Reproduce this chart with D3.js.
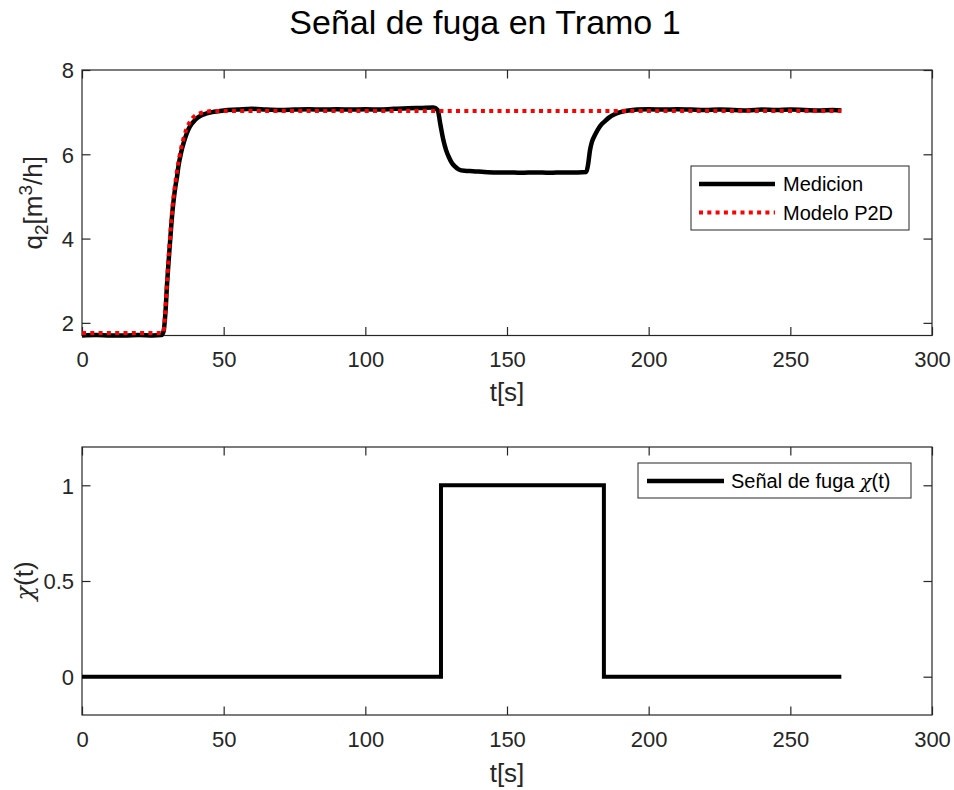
<!DOCTYPE html>
<html>
<head>
<meta charset="utf-8">
<script src="https://cdn.jsdelivr.net/npm/d3@7"></script>
<style>
  html, body { margin: 0; padding: 0; background: #fff; }
  svg { display: block; font-family: "Liberation Sans", Arial, sans-serif; }
</style>
</head>
<body>
<svg id="chart" width="954" height="790"></svg>
<script>
// ---------- data ----------
const titleText = "Señal de fuga en Tramo 1";

const medT = [0,5,10,15,20,25,28,28.8,29.5,30,30.5,31,31.5,32,32.5,33,33.5,34,35,36,37,38,40,42,44,46,48,50,55,60,65,70,75,80,85,90,95,100,105,110,115,120,124,125.5,126.5,127.5,128.5,129.5,130.5,131.5,133,135,138,142,146,150,155,160,165,170,175,178,178.6,179.3,180,181,182,183,184.5,186,188,190,193,196,200,205,210,215,220,225,230,235,240,245,250,255,260,265,268];
const medV = [1.70,1.71,1.70,1.70,1.71,1.70,1.71,1.80,2.30,2.90,3.40,3.85,4.30,4.70,5.00,5.25,5.45,5.70,6.05,6.30,6.50,6.65,6.82,6.92,6.97,7.00,7.02,7.04,7.06,7.08,7.06,7.05,7.06,7.07,7.06,7.07,7.06,7.07,7.06,7.08,7.09,7.10,7.11,7.05,6.70,6.35,6.10,5.93,5.80,5.72,5.64,5.61,5.60,5.58,5.57,5.57,5.56,5.57,5.56,5.57,5.57,5.58,5.75,6.10,6.30,6.45,6.58,6.68,6.78,6.87,6.95,7.00,7.04,7.06,7.07,7.06,7.07,7.06,7.05,7.06,7.05,7.04,7.06,7.05,7.06,7.05,7.04,7.05,7.04];

const modT = [0,28.5,29,29.5,30,30.5,31,31.5,32,32.5,33,33.5,34,35,36,37,38,39,40,42,44,47,50,100,150,200,268];
const modV = [1.76,1.76,1.90,2.40,2.95,3.50,3.95,4.40,4.80,5.10,5.35,5.60,5.80,6.15,6.42,6.62,6.76,6.86,6.92,6.98,7.01,7.03,7.03,7.03,7.03,7.03,7.03];

const leakT = [0,126.7,126.7,184.2,184.2,268];
const leakV = [0,0,1,1,0,0];

const xTicks = [0,50,100,150,200,250,300];
const yTicksTop = [2,4,6,8];
const yTicksBot = [0,0.5,1];
const legendTop = ["Medicion","Modelo P2D"];

// ---------- layout ----------
const svg = d3.select("#chart");
const axisColor = "#262626";
const left = 82, right = 932;
const top1 = 70, bot1 = 335.5;
const top2 = 447, bot2 = 715;
const tickLen = 8.5;

const x = d3.scaleLinear().domain([0,300]).range([left,right]);
const y1 = d3.scaleLinear().domain([1.7,8]).range([bot1,top1]);
const y2 = d3.scaleLinear().domain([-0.2,1.2]).range([bot2,top2]);

// title
svg.append("text").attr("x", 485).attr("y", 34)
  .attr("text-anchor","middle").attr("font-size", 34).attr("fill","#000")
  .text(titleText);

function drawAxes(y, yt, top, bot, fmt) {
  const g = svg.append("g");
  const xb = d3.axisBottom(x).tickValues(xTicks).tickSize(-tickLen).tickPadding(16).tickFormat(d3.format("d"));
  const xt = d3.axisTop(x).tickValues(xTicks).tickSize(-tickLen).tickFormat("");
  const yl = d3.axisLeft(y).tickValues(yt).tickSize(-tickLen).tickPadding(8).tickFormat(fmt);
  const yr = d3.axisRight(y).tickValues(yt).tickSize(-tickLen).tickFormat("");
  const gb = g.append("g").attr("transform",`translate(0,${bot})`).call(xb);
  const gt = g.append("g").attr("transform",`translate(0,${top})`).call(xt);
  const gl = g.append("g").attr("transform",`translate(${left},0)`).call(yl);
  const gr = g.append("g").attr("transform",`translate(${right},0)`).call(yr);
  [gb,gt,gl,gr].forEach(a => {
    a.select(".domain").remove();
    a.selectAll(".tick line").attr("stroke",axisColor).attr("stroke-width",1.2);
    a.selectAll(".tick text").attr("fill",axisColor).attr("font-size",22)
      .attr("font-family",'"Liberation Sans", Arial, sans-serif');
  });
  gb.selectAll(".tick text").attr("dy","0.71em");
  gl.selectAll(".tick text").attr("dy","0.36em");
  g.append("rect").attr("x",left).attr("y",top).attr("width",right-left).attr("height",bot-top)
    .attr("fill","none").attr("stroke",axisColor).attr("stroke-width",1.2);
  return g;
}

// ---------- top plot ----------
drawAxes(y1, yTicksTop, top1, bot1, d3.format("d"));

const medData = medT.map((t,i)=>[t,medV[i]]);
const modData = modT.map((t,i)=>[t,modV[i]]);
const line1 = d3.line().x(d=>x(d[0])).y(d=>y1(d[1])).curve(d3.curveMonotoneX);

svg.append("path").datum(medData).attr("d",line1)
  .attr("fill","none").attr("stroke","#000").attr("stroke-width",4.5)
  .attr("stroke-linejoin","round");
svg.append("path").datum(modData).attr("d",line1)
  .attr("fill","none").attr("stroke","#ff0000").attr("stroke-width",4)
  .attr("stroke-dasharray","4,4.3");

// y label top
const yl1 = svg.append("text").attr("transform",`translate(42,${(top1+bot1)/2}) rotate(-90)`)
  .attr("text-anchor","middle").attr("font-size",26).attr("fill",axisColor);
yl1.append("tspan").text("q");
yl1.append("tspan").attr("font-size",19).attr("dy",6).text("2");
yl1.append("tspan").attr("dy",-6).text("[m");
yl1.append("tspan").attr("font-size",19).attr("dy",-10).text("3");
yl1.append("tspan").attr("dy",10).text("/h]");

// x label top
svg.append("text").attr("x",(left+right)/2).attr("y",401)
  .attr("text-anchor","middle").attr("font-size",26).attr("fill",axisColor).text("t[s]");

// legend top
const lg1 = svg.append("g");
lg1.append("rect").attr("x",691).attr("y",166).attr("width",218).attr("height",64)
  .attr("fill","#fff").attr("stroke","#262626").attr("stroke-width",1);
const legY = [184, 212.5];
lg1.append("line").attr("x1",699).attr("x2",775).attr("y1",legY[0]).attr("y2",legY[0])
  .attr("stroke","#000").attr("stroke-width",4.5);
lg1.append("line").attr("x1",699).attr("x2",775).attr("y1",legY[1]).attr("y2",legY[1])
  .attr("stroke","#ff0000").attr("stroke-width",4).attr("stroke-dasharray","4,4.3");
legendTop.forEach((s,i)=>{
  lg1.append("text").attr("x",783).attr("y",legY[i]).attr("dy","0.36em")
    .attr("font-size",20).attr("fill","#000").text(s);
});

// ---------- bottom plot ----------
drawAxes(y2, yTicksBot, top2, bot2, d => d === 0.5 ? "0.5" : d3.format("d")(d));

const leakData = leakT.map((t,i)=>[t,leakV[i]]);
const line2 = d3.line().x(d=>x(d[0])).y(d=>y2(d[1]));
svg.append("path").datum(leakData).attr("d",line2)
  .attr("fill","none").attr("stroke","#000").attr("stroke-width",4)
  .attr("stroke-linejoin","miter");

// y label bottom
const yl2 = svg.append("text").attr("transform",`translate(33,${(top2+bot2)/2}) rotate(-90)`)
  .attr("text-anchor","middle").attr("font-size",26).attr("fill",axisColor);
yl2.append("tspan").attr("font-family",'"DejaVu Serif", "Liberation Serif", serif')
  .attr("font-style","italic").attr("font-size",24).text("χ");
yl2.append("tspan").text("(t)");

svg.append("text").attr("x",(left+right)/2).attr("y",782)
  .attr("text-anchor","middle").attr("font-size",26).attr("fill",axisColor).text("t[s]");

// legend bottom
const lg2 = svg.append("g");
lg2.append("rect").attr("x",638).attr("y",463).attr("width",273).attr("height",35)
  .attr("fill","#fff").attr("stroke","#262626").attr("stroke-width",1);
lg2.append("line").attr("x1",647).attr("x2",724).attr("y1",481).attr("y2",481)
  .attr("stroke","#000").attr("stroke-width",4.5);
const lt = lg2.append("text").attr("x",731).attr("y",481).attr("dy","0.36em")
  .attr("font-size",20).attr("fill","#000");
lt.append("tspan").text("Señal de fuga ");
lt.append("tspan").attr("font-family",'"DejaVu Serif", "Liberation Serif", serif')
  .attr("font-style","italic").attr("font-size",19).text("χ");
lt.append("tspan").text("(t)");
</script>
</body>
</html>
